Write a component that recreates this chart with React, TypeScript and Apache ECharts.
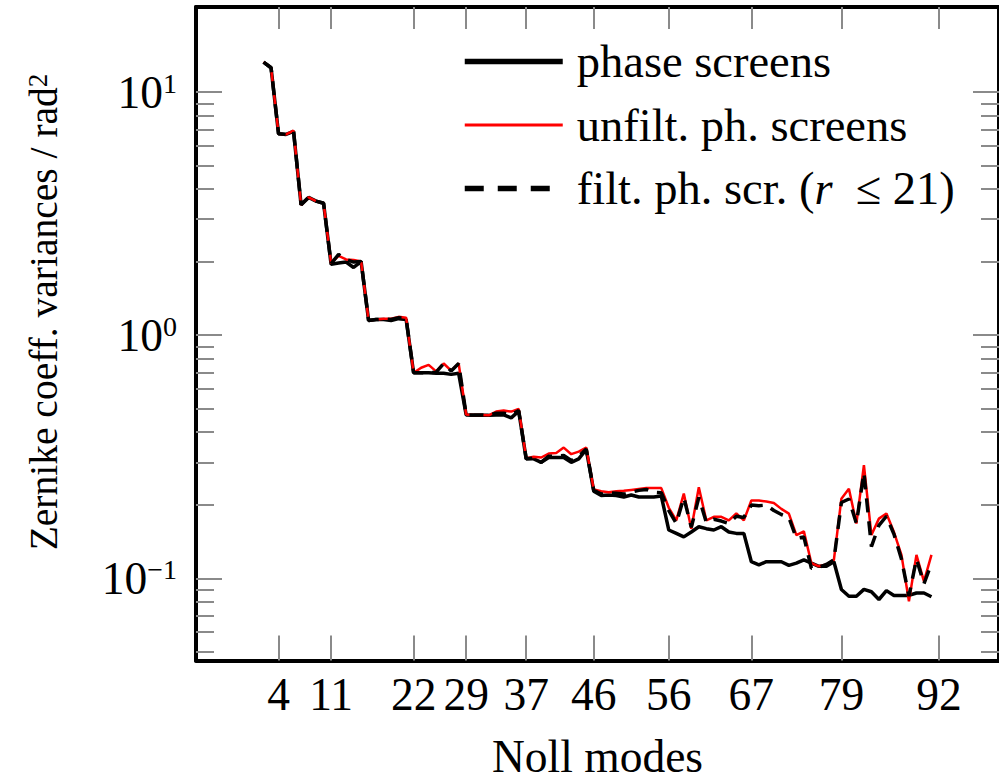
import React, { useEffect, useRef } from 'react';
import * as echarts from 'echarts';

const modes = [
  2, 3, 4, 5, 6, 7, 8, 9, 10, 11, 12, 13, 14, 15, 16, 17, 18, 19, 20, 21,
  22, 23, 24, 25, 26, 27, 28, 29, 30, 31, 32, 33, 34, 35, 36, 37, 38, 39, 40, 41,
  42, 43, 44, 45, 46, 47, 48, 49, 50, 51, 52, 53, 54, 55, 56, 57, 58, 59, 60, 61,
  62, 63, 64, 65, 66, 67, 68, 69, 70, 71, 72, 73, 74, 75, 76, 77, 78, 79, 80, 81,
  82, 83, 84, 85, 86, 87, 88, 89, 90, 91,
];

const phaseScreens = [
  13.3, 12.6, 6.74, 6.7, 6.89, 3.44, 3.69, 3.56, 3.49,
  1.96, 1.98, 2.0, 1.9, 2.01,
  1.15, 1.16, 1.16, 1.15, 1.17, 1.16,
  0.7, 0.7, 0.7, 0.697, 0.697, 0.69, 0.697,
  0.47, 0.468, 0.468, 0.468, 0.47, 0.47, 0.457, 0.487,
  0.31, 0.31, 0.3, 0.314, 0.314, 0.314, 0.3, 0.31, 0.339,
  0.228, 0.219, 0.22, 0.219, 0.216, 0.22, 0.216, 0.216, 0.216, 0.218,
  0.158, 0.153, 0.148, 0.155, 0.163, 0.16, 0.158, 0.163, 0.155, 0.153, 0.153,
  0.117, 0.1136, 0.117, 0.117, 0.117, 0.113, 0.1154, 0.119, 0.1154, 0.112, 0.112, 0.117,
  0.0899, 0.0844, 0.0844, 0.09, 0.088, 0.0818, 0.089, 0.085, 0.085, 0.085, 0.087, 0.087, 0.084,
];

const unfiltScreens = [
  13.3, 12.6, 6.74, 6.7, 6.95, 3.44, 3.69, 3.56, 3.49,
  1.98, 2.12, 2.05, 2.04, 2.01,
  1.15, 1.16, 1.17, 1.17, 1.19, 1.18,
  0.7, 0.735, 0.755, 0.71, 0.765, 0.715, 0.765,
  0.472, 0.47, 0.47, 0.468, 0.485, 0.49, 0.485, 0.497,
  0.312, 0.316, 0.314, 0.326, 0.328, 0.345, 0.324, 0.332, 0.345,
  0.232, 0.228, 0.226, 0.228, 0.229, 0.231, 0.233, 0.235, 0.235, 0.235,
  0.195, 0.173, 0.223, 0.16, 0.237, 0.173, 0.179, 0.179, 0.173, 0.185, 0.173,
  0.209, 0.209, 0.207, 0.204, 0.193, 0.1846, 0.1506, 0.156, 0.1154, 0.112, 0.114, 0.119,
  0.2125, 0.2335, 0.168, 0.292, 0.1506, 0.176, 0.1846, 0.155, 0.1248, 0.0805, 0.1248, 0.0971, 0.1248,
];

const filtScreens = [
  13.3, 12.6, 6.74, 6.7, 6.9, 3.44, 3.69, 3.56, 3.49,
  1.97, 2.15, 2.05, 2.0, 2.01,
  1.15, 1.16, 1.165, 1.16, 1.18, 1.17,
  0.7, 0.7, 0.7, 0.705, 0.765, 0.712, 0.765,
  0.47, 0.47, 0.47, 0.468, 0.478, 0.478, 0.47, 0.49,
  0.31, 0.312, 0.3, 0.318, 0.318, 0.32, 0.305, 0.318, 0.34,
  0.23, 0.222, 0.225, 0.224, 0.222, 0.226, 0.23, 0.232, 0.226, 0.225,
  0.19, 0.168, 0.215, 0.162, 0.215, 0.17, 0.175, 0.172, 0.168, 0.18, 0.178,
  0.2, 0.199, 0.2, 0.19, 0.183, 0.178, 0.146, 0.148, 0.11, 0.111, 0.114, 0.119,
  0.205, 0.212, 0.168, 0.272, 0.135, 0.165, 0.18, 0.152, 0.12, 0.0844, 0.12, 0.095, 0.115,
];

const xTicks = [4, 11, 22, 29, 37, 46, 56, 67, 79, 92];
const yMajorTicks = [0.1, 1, 10];
const yMinorTicks = [
  0.05, 0.06, 0.07, 0.08, 0.09,
  0.2, 0.3, 0.4, 0.5, 0.6, 0.7, 0.8, 0.9,
  2, 3, 4, 5, 6, 7, 8, 9,
];
const xMin = -7;
const xMax = 100;
const yMin = 0.0459;
const yMax = 22.4;

const seriesNames = ['phase screens', 'unfilt. ph. screens', 'filt. ph. scr. (r ≤ 21)'];

const FONT = '"Liberation Serif", "Times New Roman", serif';
const TICK_COLOR = '#8a8a8a';

export default function App() {
  const ref = useRef<HTMLDivElement>(null);

  useEffect(() => {
    if (!ref.current) return;
    const chart = echarts.init(ref.current, undefined, { renderer: 'svg' });

    const pair = (arr: number[]) => modes.map((m, i) => [m, arr[i]]);

    const yAxisBase = (position: 'left' | 'right', major: boolean, showLabel: boolean) => ({
      type: 'log' as const,
      logBase: 10,
      min: yMin,
      max: yMax,
      position,
      gridIndex: 0,
      axisLine: { show: major, onZero: false, lineStyle: { color: '#000', width: 4 } },
      axisTick: {
        show: true,
        inside: true,
        length: major ? 26 : 18,
        customValues: major ? yMajorTicks : yMinorTicks,
        lineStyle: { color: TICK_COLOR, width: 2 },
      },
      axisLabel: showLabel
        ? {
            show: true,
            customValues: yMajorTicks,
            margin: 19,
            formatter: (v: number) => {
              const e = Math.round(Math.log10(v));
              const s = e < 0 ? '\u2212' + String(-e) : String(e);
              return '{b|10}{s|' + s + '}';
            },
            rich: {
              b: { fontSize: 45.5, fontFamily: FONT, color: '#000', lineHeight: 45 },
              s: { fontSize: 28, fontFamily: FONT, color: '#000', lineHeight: 28, verticalAlign: 'top' },
            },
          }
        : { show: false },
      splitLine: { show: false },
      minorTick: { show: false },
      minorSplitLine: { show: false },
    });

    const option: any = {
      animation: false,
      backgroundColor: '#fff',
      grid: { left: 196, right: -2, top: 7, bottom: 117.5, containLabel: false },
      legend: {
        orient: 'vertical',
        left: 457,
        top: 33,
        itemWidth: 98,
        itemHeight: 20,
        itemGap: 16.5,
        selectedMode: false,
        textStyle: {
          fontSize: 46.5,
          fontFamily: FONT,
          color: '#000',
          lineHeight: 45,
          padding: [0, 0, 0, 9],
          rich: {
            n: { fontSize: 46.5, fontFamily: FONT, color: '#000', lineHeight: 45 },
            i: { fontSize: 46.5, fontFamily: FONT, fontStyle: 'italic', color: '#000', lineHeight: 45 },
          },
        },
        formatter: (name: string) => {
          if (name === seriesNames[2]) return '{n|filt. ph. scr. (}{i|r}{n|  \u2264 21)}';
          return '{n|' + name + '}';
        },
        data: [
          { name: seriesNames[0], itemStyle: { opacity: 0 }, lineStyle: { color: '#000', width: 5.5, type: 'solid' } },
          { name: seriesNames[1], itemStyle: { opacity: 0 }, lineStyle: { color: '#ff0000', width: 3, type: 'solid' } },
          { name: seriesNames[2], itemStyle: { opacity: 0 }, lineStyle: { color: '#000', width: 5.5, type: [19, 14] } },
        ],
      },
      xAxis: [
        {
          type: 'value',
          min: xMin,
          max: xMax,
          position: 'bottom',
          gridIndex: 0,
          axisLine: { show: true, onZero: false, lineStyle: { color: '#000', width: 4 } },
          axisTick: {
            show: true,
            inside: true,
            length: 25,
            customValues: xTicks,
            lineStyle: { color: TICK_COLOR, width: 2 },
          },
          axisLabel: {
            show: true,
            customValues: xTicks,
            fontSize: 45.5,
            fontFamily: FONT,
            color: '#000',
            margin: 11,
            lineHeight: 45,
          },
          splitLine: { show: false },
          name: 'Noll modes',
          nameLocation: 'middle',
          nameGap: 73,
          nameTextStyle: { fontSize: 45.5, fontFamily: FONT, color: '#000', lineHeight: 45 },
        },
        {
          type: 'value',
          min: xMin,
          max: xMax,
          position: 'top',
          gridIndex: 0,
          axisLine: { show: true, onZero: false, lineStyle: { color: '#000', width: 4 } },
          axisTick: {
            show: true,
            inside: true,
            length: 22,
            customValues: xTicks,
            lineStyle: { color: TICK_COLOR, width: 2 },
          },
          axisLabel: { show: false },
          splitLine: { show: false },
        },
      ],
      yAxis: [
        yAxisBase('left', true, true),
        yAxisBase('left', false, false),
        yAxisBase('right', true, false),
        yAxisBase('right', false, false),
      ],
      graphic: [
        {
          type: 'text',
          x: 44,
          y: 312,
          rotation: Math.PI / 2,
          style: {
            text: '{a|Zernike coeff. variances / rad}{s|2}',
            align: 'center',
            verticalAlign: 'middle',
            rich: {
              a: { fontSize: 39.5, fontFamily: FONT, fill: '#000', lineHeight: 40 },
              s: { fontSize: 27, fontFamily: FONT, fill: '#000', lineHeight: 27, verticalAlign: 'top' },
            },
          },
        },
      ],
      series: [
        {
          name: seriesNames[0],
          type: 'line',
          xAxisIndex: 0,
          yAxisIndex: 0,
          data: pair(phaseScreens),
          symbol: 'none',
          showSymbol: false,
          lineStyle: { color: '#000', width: 3.5, type: 'solid' },
          itemStyle: { color: '#000' },
          z: 2,
        },
        {
          name: seriesNames[1],
          type: 'line',
          xAxisIndex: 0,
          yAxisIndex: 0,
          data: pair(unfiltScreens),
          symbol: 'none',
          showSymbol: false,
          lineStyle: { color: '#ff0000', width: 2.5, type: 'solid' },
          itemStyle: { color: '#ff0000' },
          z: 3,
        },
        {
          name: seriesNames[2],
          type: 'line',
          xAxisIndex: 0,
          yAxisIndex: 0,
          data: pair(filtScreens),
          symbol: 'none',
          showSymbol: false,
          lineStyle: { color: '#000', width: 3.5, type: [14, 9] },
          itemStyle: { color: '#000' },
          z: 4,
        },
      ],
    };

    chart.setOption(option);
    return () => chart.dispose();
  }, []);

  return (
    <div
      ref={ref}
      style={{ position: 'fixed', left: 0, top: 0, width: 999, height: 784, background: '#fff' }}
    />
  );
}
